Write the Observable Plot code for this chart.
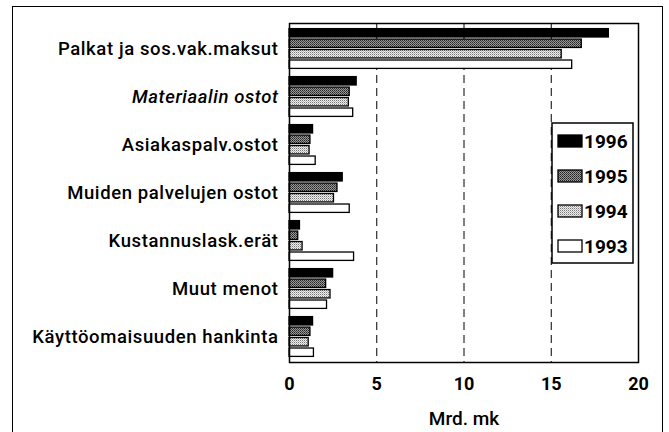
<!DOCTYPE html>
<html><head><meta charset="utf-8">
<script src="https://cdn.jsdelivr.net/npm/d3@7"></script>
<script src="https://cdn.jsdelivr.net/npm/@observablehq/plot@0.6"></script>
<style>
body{margin:0;background:#fff;}
svg{font-family:Roboto,"DejaVu Sans Condensed",sans-serif;}
</style>
</head><body><div id="chart"></div>
<script>
const categories = ["Palkat ja sos.vak.maksut","Materiaalin ostot","Asiakaspalv.ostot","Muiden palvelujen ostot","Kustannuslask.erät","Muut menot","Käyttöomaisuuden hankinta"];
const years = ["1996","1995","1994","1993"];
const v1996 = [18.3, 3.85, 1.35, 3.05, 0.6, 2.5, 1.35];
const v1995 = [16.75, 3.45, 1.2, 2.75, 0.5, 2.1, 1.2];
const v1994 = [15.6, 3.4, 1.15, 2.55, 0.75, 2.35, 1.1];
const v1993 = [16.2, 3.65, 1.5, 3.45, 3.7, 2.15, 1.4];
const xTicks = [0, 5, 10, 15, 20];
const gridTicks = [5, 10, 15];

const series = {"1996": v1996, "1995": v1995, "1994": v1994, "1993": v1993};
const fills = {"1996": "#000", "1995": "url(#pat1995)", "1994": "url(#pat1994)", "1993": "#fff"};

const W = 669, H = 432, mt = 23, mb = 70, ml = 289, mr = 31;
const pIn = 0.14, pOut = 0.05;
const step = (H - mt - mb) / (categories.length - pIn + 2 * pOut);
const bw = step * (1 - pIn);
const slot = bw / years.length;

const barMarks = years.map((yr, i) => {
  const data = categories.map((c, j) => ({category: c, value: series[yr][j]}));
  return Plot.barX(data, {
    x1: 0, x2: "value", y: "category",
    fill: fills[yr], stroke: "#000", strokeWidth: 1.3,
    insetTop: i * slot + 0.6, insetBottom: bw - (i + 1) * slot + 0.6
  });
});

const svg = Plot.plot({
  width: W, height: H,
  marginTop: mt, marginBottom: mb, marginLeft: ml, marginRight: mr,
  style: {fontFamily: 'Roboto,"DejaVu Sans Condensed",sans-serif', background: "#fff", color: "#000"},
  x: {domain: [0, 20], ticks: xTicks, tickSize: 0, tickPadding: 15, label: "Mrd. mk", labelAnchor: "center", labelOffset: 62},
  y: {domain: categories, paddingInner: pIn, paddingOuter: pOut, tickSize: 0, tickPadding: 11, label: null},
  marks: [
    Plot.ruleX(gridTicks, {stroke: "#000", strokeWidth: 1, strokeDasharray: "8,5"}),
    ...barMarks,
    Plot.frame({stroke: "#000", strokeWidth: 1.5})
  ]
});

const s = d3.select(svg);
const defs = s.insert("defs", ":first-child");
const p5 = defs.append("pattern").attr("id", "pat1995").attr("patternUnits", "userSpaceOnUse").attr("width", 2).attr("height", 2);
p5.append("rect").attr("width", 2).attr("height", 2).attr("fill", "#999");
p5.append("rect").attr("width", 1).attr("height", 1).attr("fill", "#222");
p5.append("rect").attr("x", 1).attr("y", 1).attr("width", 1).attr("height", 1).attr("fill", "#444");
const p4 = defs.append("pattern").attr("id", "pat1994").attr("patternUnits", "userSpaceOnUse").attr("width", 2).attr("height", 2);
p4.append("rect").attr("width", 2).attr("height", 2).attr("fill", "#eee");
p4.append("rect").attr("width", 1).attr("height", 1).attr("fill", "#777");
p4.append("rect").attr("x", 1).attr("y", 1).attr("width", 1).attr("height", 1).attr("fill", "#bbb");

// axis text styling
s.selectAll("g[aria-label='y-axis tick label'] text, g[aria-label='y-axis'] text").each(function(){
  const t = d3.select(this);
  t.style("font-size", "18.5px").style("font-weight", "500").style("letter-spacing", "0.6px");
  if (t.text() === "Materiaalin ostot") t.style("font-style", "italic");
});
s.selectAll("g[aria-label='x-axis tick label'] text, g[aria-label='x-axis'] text").style("font-size", "18px").style("font-weight", "bold");
s.selectAll("g[aria-label='x-axis label'] text").each(function(){
  const t = d3.select(this);
  t.text(t.text().replace(/\s*[→←]\s*/g, ""));
  t.style("font-size", "19px").style("font-weight", "500");
});

// legend
const lg = s.append("g").attr("text-anchor", "start");
lg.append("rect").attr("x", 552).attr("y", 123).attr("width", 81).attr("height", 140).attr("fill", "#fff").attr("stroke", "#000").attr("stroke-width", 1.5);
years.forEach((yr, i) => {
  const cy = 141 + i * 35;
  lg.append("rect").attr("x", 558).attr("y", cy - 6).attr("width", 24).attr("height", 12).attr("fill", fills[yr]).attr("stroke", "#000").attr("stroke-width", 1.3);
  lg.append("text").attr("x", 584).attr("y", cy).attr("dy", "0.35em").attr("font-size", 19).attr("font-weight", "bold").attr("text-anchor", "start").text(yr);
});
// outer border
s.append("rect").attr("x", 12.5).attr("y", 6.5).attr("width", 650).attr("height", 430).attr("fill", "none").attr("stroke", "#000").attr("stroke-width", 1);

document.getElementById("chart").appendChild(svg);
</script>
</body></html>
